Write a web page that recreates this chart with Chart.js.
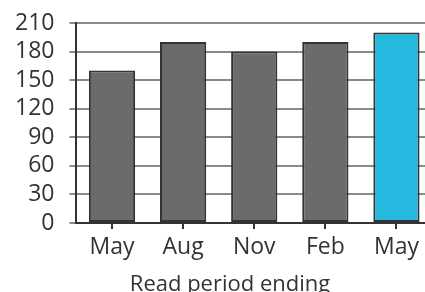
<!DOCTYPE html>
<html>
<head>
<meta charset="utf-8">
<script src="https://cdn.jsdelivr.net/npm/chart.js@4/dist/chart.umd.min.js"></script>
<style>
  html, body { margin: 0; padding: 0; background: #fff; overflow: hidden; }
  #wrap { width: 460px; height: 292px; position: relative; overflow: hidden; }
  #xtitle {
    position: absolute; left: 0; top: 269px; width: 460px; height: 27px;
    font: 22px/27px 'Open Sans', sans-serif; color: #333; text-align: center;
  }
</style>
</head>
<body>
<div id="wrap">
  <canvas id="readChart" width="460" height="292"></canvas>
  <div id="xtitle"></div>
</div>
<script>
const periods = ['May', 'Aug', 'Nov', 'Feb', 'May']
const reads = [160, 190, 180, 190, 200]
const barColors = ['#6b6b6b', '#6b6b6b', '#6b6b6b', '#6b6b6b', '#25b9e0']
const yMax = 210
const yStep = 30
const xTitle = 'Read period ending'

const font = { family: "'Open Sans', sans-serif", size: 23 }

document.getElementById('xtitle').textContent = xTitle

new Chart(document.getElementById('readChart').getContext('2d'), {
  type: 'bar',
  data: {
    labels: periods,
    datasets: [
      {
        label: 'Reads',
        data: reads,
        backgroundColor: barColors,
        borderColor: '#333',
        borderWidth: 2,
        borderSkipped: false,
        barPercentage: 0.65,
        categoryPercentage: 1
      }
    ]
  },
  options: {
    responsive: false,
    animation: false,
    // bottom space is left for the axis title div
    layout: { padding: { top: 23, right: 28, left: 0, bottom: 25.4 } },
    plugins: {
      legend: { display: false },
      tooltip: { enabled: false }
    },
    scales: {
      x: {
        grid: { display: true, offset: false, drawOnChartArea: false, drawTicks: true, tickLength: 6, color: '#333', lineWidth: 2 },
        border: { display: true, color: '#333', width: 2 },
        ticks: { color: '#333', font: font, padding: 5, autoSkip: false, maxRotation: 0 }
      },
      y: {
        min: 0,
        max: yMax,
        // top label room comes from layout padding instead
        afterFit: scale => { scale.paddingTop = 0 },
        grid: { color: '#8a8a8a', lineWidth: 2, drawTicks: true, tickLength: 7 },
        border: { display: true, color: '#333', width: 2 },
        ticks: { color: '#333', font: font, padding: 15, stepSize: yStep, autoSkip: false }
      }
    }
  }
})
</script>
</body>
</html>
